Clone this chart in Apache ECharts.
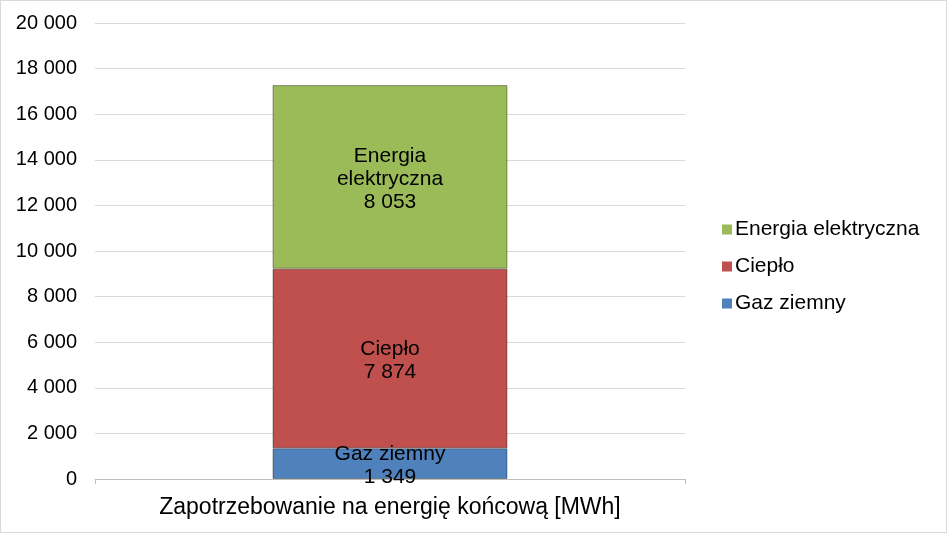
<!DOCTYPE html>
<html><head><meta charset="utf-8">
<script src="https://cdn.jsdelivr.net/npm/echarts@6/dist/echarts.min.js"></script>
<style>
html,body{margin:0;padding:0;background:#fff;}
#c{width:945px;height:531px;border:1px solid #d9d9d9;}
</style></head>
<body><div id="c"></div>
<script>
const categories = ['Zapotrzebowanie na energię końcową [MWh]'];
const seriesNames = ['Gaz ziemny', 'Ciepło', 'Energia elektryczna'];
const gazValues = [1349];
const cieploValues = [7874];
const energiaValues = [8053];
const colors = ['#4F81BD', '#C0504D', '#9BBB59'];
const FONT = 'Liberation Sans, Arial, sans-serif';

function fmt(v){ return String(v).replace(/\B(?=(\d{3})+(?!\d))/g, ' '); }

const chart = echarts.init(document.getElementById('c'));
const dataSets = [gazValues, cieploValues, energiaValues];
chart.setOption({
  animation: false,
  grid: {left: 94, right: 261, top: 22, bottom: 53},
  legend: {
    orient: 'vertical', left: 716, top: 'middle',
    data: [seriesNames[2], seriesNames[1], seriesNames[0]],
    icon: 'rect', itemWidth: 10, itemHeight: 10, itemGap: 16,
    itemStyle: {borderWidth: 0},
    textStyle: {fontFamily: FONT, fontSize: 21, color: '#000', padding: [0,0,0,-2]}
  },
  xAxis: {
    type: 'category', data: categories,
    axisLine: {lineStyle: {color: '#bfbfbf'}},
    axisTick: {show: true, length: 5, lineStyle: {color: '#bfbfbf'}},
    axisLabel: {fontFamily: FONT, fontSize: 23, color: '#000', margin: 17}
  },
  yAxis: {
    type: 'value', min: 0, max: 20000, interval: 2000,
    axisLine: {show: false}, axisTick: {show: false},
    splitLine: {lineStyle: {color: '#d9d9d9'}},
    axisLabel: {fontFamily: FONT, fontSize: 20, color: '#000', margin: 18, formatter: v => fmt(v)}
  },
  series: seriesNames.map((n, i) => ({
    name: n, type: 'bar', stack: 'total', barWidth: 235,
    data: dataSets[i],
    itemStyle: {color: colors[i], borderColor: 'rgba(0,0,0,0.35)', borderWidth: 1},
    label: {
      show: true, position: 'inside', fontFamily: FONT, fontSize: 21, color: '#000', lineHeight: 23,
      offset: [0, 2],
      formatter: p => (i === 2 ? 'Energia\nelektryczna' : n) + '\n' + fmt(p.value)
    }
  }))
});
</script></body></html>
